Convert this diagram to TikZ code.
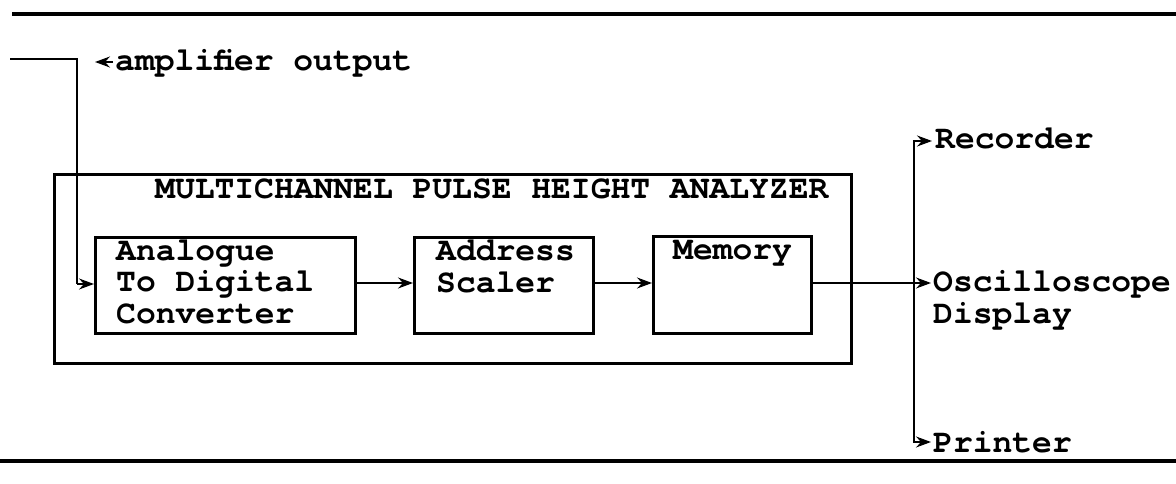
\documentclass[tikz,border=0pt]{standalone}
\usepackage{fontspec}
\setmonofont{texgyrecursor}[Extension=.otf, UprightFont=*-regular, BoldFont=*-bold]
\usetikzlibrary{arrows.meta}
\begin{document}
\begin{tikzpicture}[x=1pt,y=-1pt,
  txt/.style={font=\ttfamily\bfseries\fontsize{33}{31.5}\selectfont, inner sep=0pt, anchor=base west, align=left},
  blk/.style={draw, line width=2.6pt, inner sep=0pt},
  conn/.style={line width=1.5pt},
  tip/.style={-{Stealth[length=15pt,width=11pt,inset=5pt]}},
  arr/.style={conn, tip},
  rule/.style={line width=3.5pt}]
\useasboundingbox (0,0) rectangle (1176,484);
% horizontal rules
\coordinate (rtl) at (12,14);  \coordinate (rtr) at (1176,14);
\coordinate (rbl) at (0,461);  \coordinate (rbr) at (1176,461);
\draw[rule] (rtl) -- (rtr);
\draw[rule] (rbl) -- (rbr);
% outer box
\node[blk, line width=3pt, minimum width=797pt, minimum height=189pt, anchor=north west] (outer) at (53,173) {};
\node[txt] (title) at (155,198) {MULTICHANNEL PULSE HEIGHT ANALYZER};
% blocks
\node[blk, minimum width=260pt, minimum height=96pt, anchor=north west] (adc) at (94,236) {};
\node[blk, minimum width=179pt, minimum height=96pt, anchor=north west] (as) at (413,236) {};
\node[blk, minimum width=158pt, minimum height=97pt, anchor=north west] (mem) at (652,235) {};
% multi-line texts: base anchor is the baseline of the last line
\node[txt] (adct) at (116,323) {Analogue\\To Digital\\Converter};
\node[txt] (ast) at (436,292) {Address\\Scaler};
\node[txt] (memt) at (673,259) {Memory};
% input
\coordinate (in0) at (10,59);
\coordinate (in1) at (77,59);
\coordinate (in2) at (77,284);
\draw[conn] (in0) -- (in1) -- (in2);
\draw[arr] (in2) -- (adc.west |- in2);
\node[txt] (amp) at (115,71) {amplifier output};
\coordinate (ampa) at (113,62);
\coordinate (ampb) at (95,62);
\draw[arr] (ampa) -- (ampb);
% internal arrows
\draw[arr] (adc.east |- 0,283) -- (as.west |- 0,283);
\draw[arr] (as.east |- 0,283) -- (mem.west |- 0,283);
% outputs
\node[txt] (rec) at (935,149) {Recorder};
\node[txt] (osc) at (933,323) {Oscilloscope\\Display};
\node[txt] (prn) at (933,452) {Printer};
\coordinate (bus) at (914,283);
\draw[arr] (mem.east |- bus) -- (931,283);
\draw[arr] (bus) |- (932,141);
\draw[arr] (bus) |- (931,442);
\end{tikzpicture}
\end{document}
